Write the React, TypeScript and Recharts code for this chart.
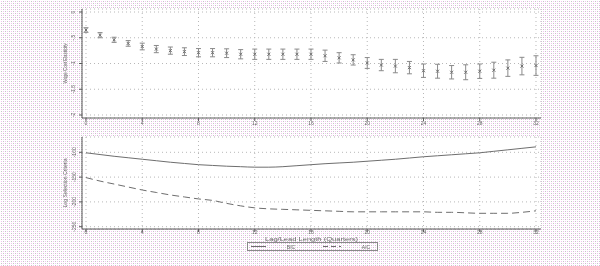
import React from 'react';
import { ComposedChart, Scatter, ErrorBar, XAxis, YAxis, CartesianGrid, Line } from 'recharts';

const lags = [0,1,2,3,4,5,6,7,8,9,10,11,12,13,14,15,16,17,18,19,20,21,22,23,24,25,26,27,28,29,30,31,32];
const elasticity = [-0.35,-0.45,-0.54,-0.61,-0.67,-0.72,-0.75,-0.77,-0.79,-0.79,-0.80,-0.82,-0.82,-0.82,-0.82,-0.82,-0.82,-0.85,-0.89,-0.93,-0.99,-1.03,-1.05,-1.08,-1.14,-1.15,-1.17,-1.17,-1.15,-1.13,-1.09,-1.05,-1.04];
const elasticityErr = [0.045,0.05,0.05,0.055,0.065,0.07,0.07,0.075,0.08,0.08,0.085,0.09,0.1,0.1,0.1,0.1,0.1,0.11,0.1,0.1,0.105,0.11,0.13,0.12,0.13,0.135,0.13,0.145,0.14,0.155,0.16,0.17,0.19];
const bic = [-101,-104.5,-108,-111,-114,-117,-120,-122.5,-125,-126.5,-128,-129,-130,-130,-129,-127,-125,-123,-121.5,-120,-118,-116,-114,-111.5,-109,-107,-105,-103,-101,-98,-95,-92,-89];
const aic = [-151,-158,-164,-170,-176,-181,-186,-190,-194,-197,-203,-208,-212,-214,-215,-216,-217,-218,-219,-220,-220,-220,-220,-220,-220,-221,-221,-222,-223,-223,-223,-221,-218];

const xTicks = [0,4,8,12,16,20,24,28,32];
const upperYTicks = [0,-0.5,-1,-1.5,-2];
const upperYTickLabels = ['0','-.5','-1','-1.5','-2'];
const lowerYTicks = [-100,-150,-200,-250];
const lowerYTickLabels = ['-100','-150','-200','-250'];

const upperTitle = 'Wage Cost Elasticity';
const lowerTitle = 'Log Selection Criteria';
const xTitle = 'Lag/Lead Length (Quarters)';
const seriesNames = ['BIC','AIC'];

const upperData = lags.map((lag, i) => ({ lag, est: elasticity[i], err: elasticityErr[i] }));
const lowerData = lags.map((lag, i) => ({ lag, bic: bic[i], aic: aic[i] }));

const FONT = '"Liberation Sans", Arial, sans-serif';
const TXT = '#666';
const AXIS = '#5a5a5a';
const GRID = '#b8b8b8';

const tile = "data:image/svg+xml;utf8," + encodeURIComponent(
  "<svg xmlns='http://www.w3.org/2000/svg' width='4' height='4'>" +
  "<rect width='4' height='4' fill='#ffffff'/>" +
  "<rect x='1' y='1' width='1' height='1' fill='#f2c4f2'/>" +
  "<rect x='3' y='1' width='1' height='1' fill='#c6c6c6'/>" +
  "<rect x='1' y='3' width='1' height='1' fill='#c6c6c6'/>" +
  "<rect x='3' y='3' width='1' height='1' fill='#f2c4f2'/>" +
  "</svg>"
);

const makeXTick = (dy: number) => (props: any) => {
  const { x, y, payload } = props;
  return (
    <text x={x} y={y + dy} textAnchor="middle" dominantBaseline="central" fontSize={5} fill={TXT} fontFamily={FONT}>
      {payload.value}
    </text>
  );
};

const makeYTick = (ticks: number[], labels: string[], dx: number) => (props: any) => {
  const { x, y, payload } = props;
  const idx = ticks.indexOf(payload.value);
  const cx = x + dx;
  return (
    <text x={cx} y={y} transform={`rotate(-90 ${cx} ${y})`} textAnchor="middle" dominantBaseline="central" fontSize={5} fill={TXT} fontFamily={FONT}>
      {idx >= 0 ? labels[idx] : payload.value}
    </text>
  );
};

const makeYLabel = (text: string, len: number) => (props: any) => {
  const vb = props.viewBox || {};
  const cx = 65;
  const cy = vb.y + vb.height / 2;
  return (
    <text x={cx} y={cy} transform={`rotate(-90 ${cx} ${cy})`} textAnchor="middle" dominantBaseline="central" fontSize={5} fill={TXT} fontFamily={FONT} textLength={len} lengthAdjust="spacingAndGlyphs">
      {text}
    </text>
  );
};

const makeXLabel = (text: string) => (props: any) => {
  const vb = props.viewBox || {};
  const cx = vb.x + vb.width / 2;
  return (
    <text x={cx} y={vb.y + 9.6} textAnchor="middle" dominantBaseline="central" fontSize={5.5} fill={TXT} fontFamily={FONT} textLength={93} lengthAdjust="spacingAndGlyphs">
      {text}
    </text>
  );
};

const XMarker = (props: any) => {
  const { cx, cy } = props;
  if (cx == null || cy == null) return null;
  const s = 1.5;
  return (
    <g stroke="#707070" strokeWidth={1} fill="none">
      <line x1={cx - s} y1={cy - s} x2={cx + s} y2={cy + s} />
      <line x1={cx - s} y1={cy + s} x2={cx + s} y2={cy - s} />
    </g>
  );
};

const X_DOMAIN: [number, number] = [-0.2844, 32.3556];

export default function App() {
  return (
    <div style={{ position: 'fixed', left: 0, top: 0, width: 600, height: 266, backgroundImage: `url("${tile}")`, fontFamily: FONT, overflow: 'hidden' }}>
      <div style={{ position: 'absolute', left: 0, top: 0 }}>
        <ComposedChart width={600} height={130} data={upperData} margin={{ top: 9, right: 59, bottom: 0, left: 0 }}>
          <CartesianGrid fill="#ffffff" stroke={GRID} strokeDasharray="1 3" />
          <XAxis type="number" dataKey="lag" domain={X_DOMAIN} ticks={xTicks} allowDataOverflow height={12}
            tickSize={3} tickMargin={0} tick={makeXTick(1.6)} stroke={AXIS} />
          <YAxis type="number" domain={[-2.0583, 0.0583]} ticks={upperYTicks} allowDataOverflow width={82}
            tickSize={3} tickMargin={0} tick={makeYTick(upperYTicks, upperYTickLabels, -6)} stroke={AXIS}
            label={{ content: makeYLabel(upperTitle, 40) } as any} />
          <Scatter dataKey="est" shape={XMarker} isAnimationActive={false}>
            <ErrorBar dataKey="err" direction="y" width={2.5} stroke="#8a8a8a" strokeWidth={1} />
          </Scatter>
        </ComposedChart>
      </div>
      <div style={{ position: 'absolute', left: 0, top: 130 }}>
        <ComposedChart width={600} height={136} data={lowerData} margin={{ top: 7, right: 59, bottom: 29, left: 0 }}>
          <CartesianGrid fill="#ffffff" stroke={GRID} strokeDasharray="1 3" />
          <XAxis type="number" dataKey="lag" domain={X_DOMAIN} ticks={xTicks} allowDataOverflow height={8}
            tickSize={3} tickMargin={0} tick={makeXTick(0.4)} stroke={AXIS}
            label={{ content: makeXLabel(xTitle) } as any} />
          <YAxis type="number" domain={[-254.64, -69.15]} ticks={lowerYTicks} allowDataOverflow width={82}
            tickSize={3} tickMargin={0} tick={makeYTick(lowerYTicks, lowerYTickLabels, -5)} stroke={AXIS}
            label={{ content: makeYLabel(lowerTitle, 49) } as any} />
          <Line type="monotone" dataKey="bic" stroke="#6e6e6e" strokeWidth={1} dot={false} isAnimationActive={false} />
          <Line type="monotone" dataKey="aic" stroke="#6e6e6e" strokeWidth={1} strokeDasharray="7 4" dot={false} isAnimationActive={false} />
        </ComposedChart>
      </div>
      <div style={{ position: 'absolute', left: 247, top: 242, width: 131, height: 9, border: '1px solid #8a8a8a', boxSizing: 'border-box' }}>
        <svg width={131} height={9} style={{ position: 'absolute', left: -1, top: -1 }}>
          <line x1={4} y1={4.5} x2={19} y2={4.5} stroke="#6e6e6e" strokeWidth={1} />
          <text x={44} y={4.8} textAnchor="middle" dominantBaseline="central" fontSize={5} fill={TXT} fontFamily={FONT}>{seriesNames[0]}</text>
          <line x1={76} y1={4.5} x2={94} y2={4.5} stroke="#6e6e6e" strokeWidth={1} strokeDasharray="5 3" />
          <text x={119} y={4.8} textAnchor="middle" dominantBaseline="central" fontSize={5} fill={TXT} fontFamily={FONT}>{seriesNames[1]}</text>
        </svg>
      </div>
    </div>
  );
}
